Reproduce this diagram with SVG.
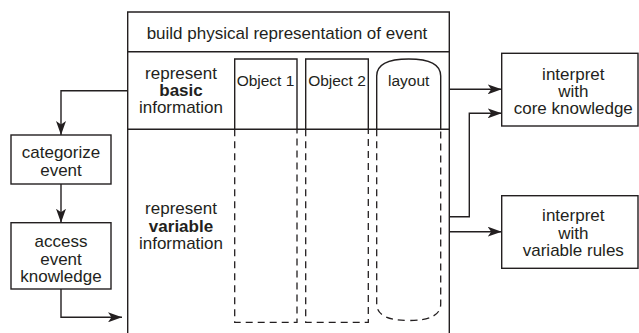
<svg xmlns="http://www.w3.org/2000/svg" width="639" height="333" viewBox="0 0 639 333">
<defs>
<style>
.s{fill:none;stroke:#231f20;stroke-width:1.4}
.d{fill:none;stroke:#231f20;stroke-width:1.3;stroke-dasharray:7,5}
.c{fill:none;stroke:#231f20;stroke-width:1.4}
text{font-family:"Liberation Sans",Arial,sans-serif;font-size:17px;fill:#231f20;text-anchor:middle}
.b{font-weight:bold}
.o{font-size:15.5px}
</style>
<marker id="a" viewBox="0 0 14 10" refX="14" refY="5" markerWidth="14" markerHeight="10" markerUnits="userSpaceOnUse" orient="auto">
<path d="M0,0 L14,5 L0,10 L3.5,5 Z" fill="#231f20"/>
</marker>
</defs>
<rect width="639" height="333" fill="#fff"/>
<g id="main">
<path class="s" d="M127.7,333 V12 H449.3 V333"/>
<line class="s" x1="127.7" y1="51.7" x2="449.3" y2="51.7"/>
<line class="s" x1="127.7" y1="129.3" x2="449.3" y2="129.3"/>
<text x="287" y="39">build physical representation of event</text>
<text x="181" y="79">represent</text>
<text x="181" y="96" class="b">basic</text>
<text x="181" y="113">information</text>
<text x="181" y="214">represent</text>
<text x="181" y="232" class="b">variable</text>
<text x="181" y="249">information</text>
</g>
<g id="object1">
<path class="s" d="M234.7,129.3 V59 H297 V129.3"/>
<path class="d" d="M234.7,129.3 V322.3 H297 V129.3"/>
<text x="265.5" y="85.5" class="o">Object 1</text>
</g>
<g id="object2">
<path class="s" d="M305.7,129.3 V59 H368.3 V129.3"/>
<path class="d" d="M305.7,129.3 V322.3 H368.3 V129.3"/>
<text x="337" y="85.5" class="o">Object 2</text>
</g>
<g id="layout">
<path class="s" d="M376.7,129.3 V76 Q376.7,59 408.7,59 Q440.7,59 440.7,76 V129.3"/>
<path class="d" d="M376.7,129.3 V304 Q376.7,320.5 408.7,320.5 Q440.7,320.5 440.7,304 V129.3"/>
<text x="408.7" y="85.5" class="o">layout</text>
</g>
<g id="categorize">
<rect class="s" x="11" y="135" width="100" height="49"/>
<text x="61" y="158">categorize</text>
<text x="61" y="176">event</text>
</g>
<g id="access">
<rect class="s" x="11" y="222.7" width="100" height="66.3"/>
<text x="61" y="247">access</text>
<text x="61" y="264.5">event</text>
<text x="61" y="282">knowledge</text>
</g>
<g id="core">
<rect class="s" x="501.7" y="53.3" width="136.3" height="72.7"/>
<text x="573.3" y="79.5">interpret</text>
<text x="573.3" y="97">with</text>
<text x="573.3" y="113.5">core knowledge</text>
</g>
<g id="variable">
<rect class="s" x="501.7" y="195.7" width="136.3" height="72.6"/>
<text x="573.3" y="221">interpret</text>
<text x="573.3" y="239">with</text>
<text x="573.3" y="256">variable rules</text>
</g>
<g id="connectors">
<path class="c" d="M127.7,90.7 H61 V135" marker-end="url(#a)"/>
<path class="c" d="M61,184 V222.7" marker-end="url(#a)"/>
<path class="c" d="M61,289 V317.3 H122" marker-end="url(#a)"/>
<path class="c" d="M449.3,89.3 H501.7" marker-end="url(#a)"/>
<path class="c" d="M449.3,216.7 H469.3 V113.3 H501.7" marker-end="url(#a)"/>
<path class="c" d="M449.3,231.7 H501.7" marker-end="url(#a)"/>
</g>
</svg>
